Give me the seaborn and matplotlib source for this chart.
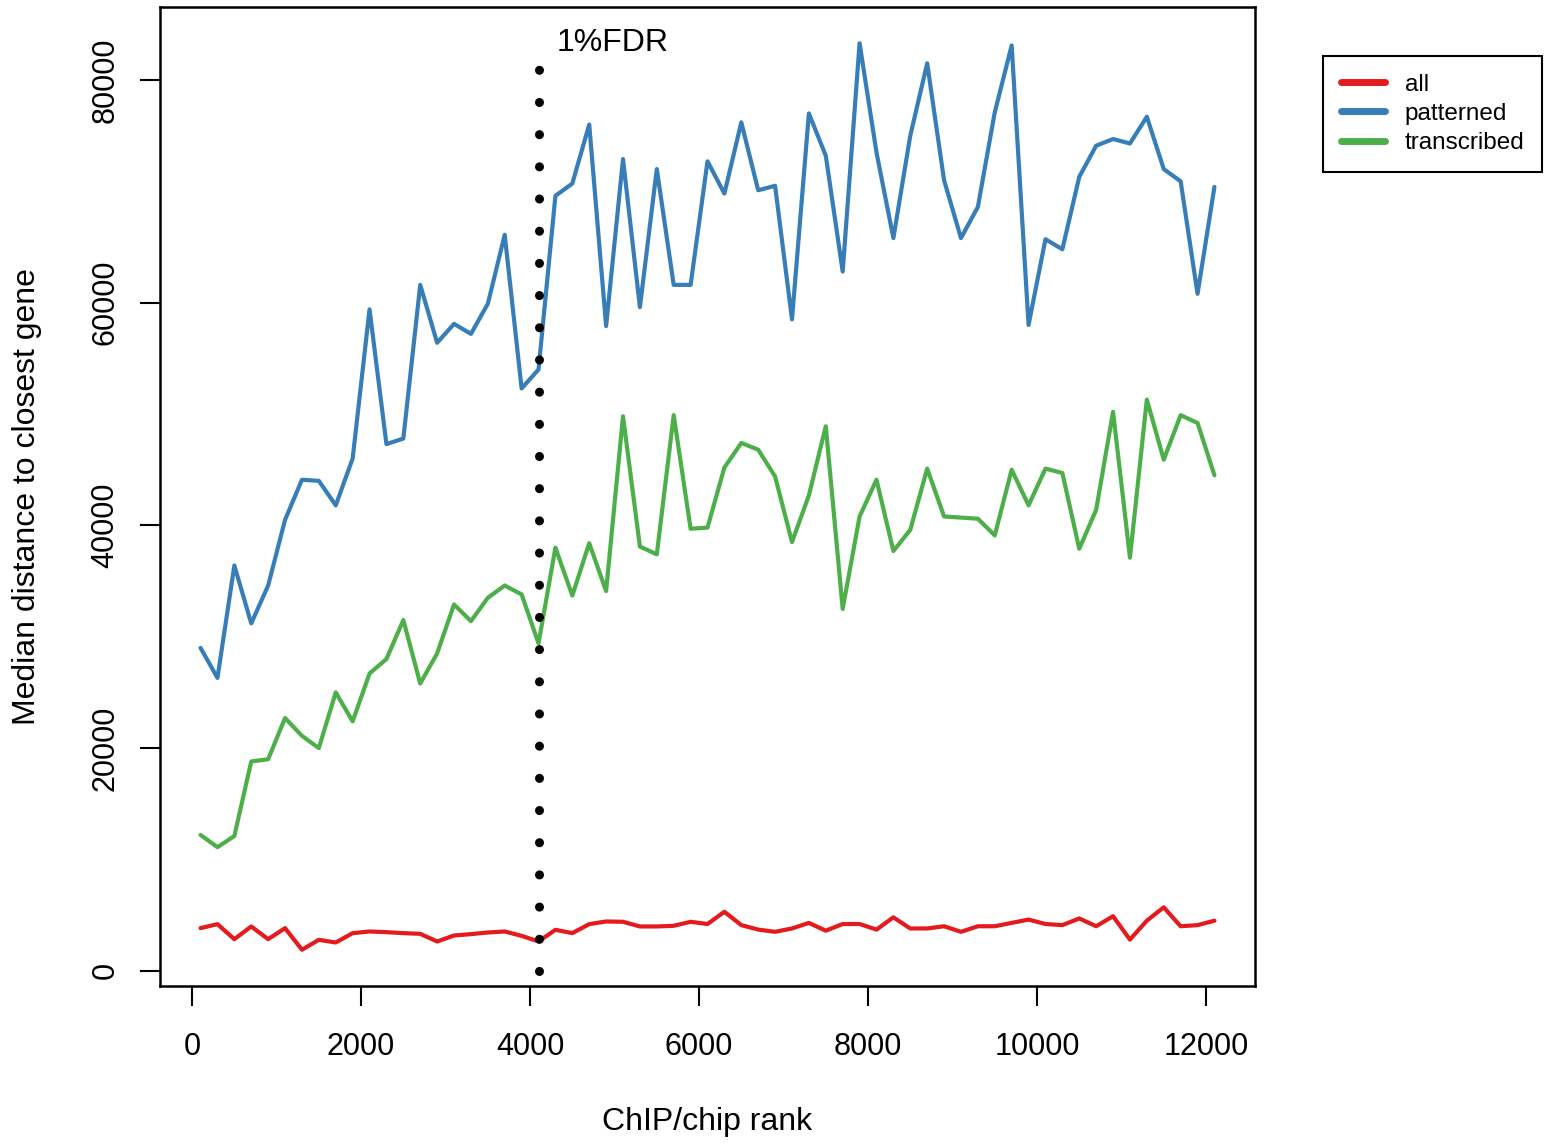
import numpy as np
import pandas as pd

import matplotlib as mpl

mpl.use('Agg')
import matplotlib.pyplot as plt
from matplotlib.lines import Line2D
import seaborn as sns

## Data
ranks = [100, 300, 500, 700, 900, 1100, 1300, 1500, 1700, 1900,
         2100, 2300, 2500, 2700, 2900, 3100, 3300, 3500, 3700, 3900,
         4100, 4300, 4500, 4700, 4900, 5100, 5300, 5500, 5700, 5900,
         6100, 6300, 6500, 6700, 6900, 7100, 7300, 7500, 7700, 7900,
         8100, 8300, 8500, 8700, 8900, 9100, 9300, 9500, 9700, 9900,
         10100, 10300, 10500, 10700, 10900, 11100, 11300, 11500, 11700, 11900, 12100]

all_dist = [3830, 4190, 2840, 3980, 2840, 3830, 1890, 2780, 2540, 3380,
            3530, 3470, 3380, 3320, 2630, 3170, 3290, 3440, 3530, 3140,
            2630, 3680, 3380, 4190, 4430, 4400, 3980, 3980, 4040, 4400,
            4200, 5300, 4100, 3700, 3500, 3800, 4300, 3600, 4200, 4200,
            3700, 4800, 3800, 3800, 4000, 3500, 4000, 4000, 4300, 4600,
            4200, 4100, 4700, 4000, 4900, 2800, 4500, 5700, 4000, 4100, 4500]

patterned_dist = [29000, 26300, 36400, 31200, 34600, 40500, 44100, 44000, 41800, 46000,
                  59400, 47300, 47800, 61600, 56400, 58100, 57200, 59900, 66100, 52300,
                  54000, 69600, 70700, 76000, 57900, 72900, 59600, 72000, 61600, 61600,
                  72700, 69800, 76200, 70100, 70500, 58500, 77000, 73200, 62800, 83300,
                  73500, 65800, 75000, 81500, 71000, 65800, 68600, 77100, 83100, 58000,
                  65700, 64800, 71300, 74100, 74700, 74300, 76700, 72000, 70900, 60800, 70400]

transcribed_dist = [12200, 11100, 12100, 18800, 19000, 22700, 21100, 20000, 25000, 22400,
                    26700, 28000, 31500, 25800, 28500, 32900, 31400, 33500, 34600, 33800,
                    29400, 38000, 33700, 38400, 34100, 49800, 38100, 37400, 49900, 39700,
                    39800, 45200, 47400, 46800, 44400, 38500, 42700, 48900, 32500, 40800,
                    44100, 37700, 39600, 45100, 40800, 40700, 40600, 39100, 45000, 41800,
                    45100, 44700, 37900, 41400, 50200, 37100, 51300, 45900, 49900, 49200, 44500]

set_names = ['all', 'patterned', 'transcribed']
set_colors = {'all': '#E41A1C', 'patterned': '#377EB8', 'transcribed': '#4DAF4A'}

fdr_rank = 4100
fdr_top = 81400

x_ticks = [0, 2000, 4000, 6000, 8000, 10000, 12000]
y_ticks = [0, 20000, 40000, 60000, 80000]

## Long format table for seaborn
df = pd.concat([
    pd.DataFrame({'rank': ranks, 'dist': all_dist, 'set': 'all'}),
    pd.DataFrame({'rank': ranks, 'dist': patterned_dist, 'set': 'patterned'}),
    pd.DataFrame({'rank': ranks, 'dist': transcribed_dist, 'set': 'transcribed'}),
])

## Plot
sns.set_style('ticks')
plt.rcParams['font.family'] = ['Liberation Sans', 'DejaVu Sans']
plt.rcParams.update({'text.color': 'black', 'axes.labelcolor': 'black',
                     'xtick.color': 'black', 'ytick.color': 'black',
                     'axes.edgecolor': 'black'})

fig = plt.figure(figsize=(15.54, 11.44), dpi=100)
ax = fig.add_axes([160 / 1554, 1 - 986 / 1144, 1095 / 1554, 979 / 1144])

sns.lineplot(data=df, x='rank', y='dist', hue='set', hue_order=set_names,
             palette=set_colors, estimator=None, sort=False, linewidth=3,
             legend=False, ax=ax)

# dotted 1% FDR cut-off
ax.plot([fdr_rank, fdr_rank], [0, fdr_top], color='black', linewidth=6.5,
        linestyle=(0, (0.01, 3.555)), dash_capstyle='round', solid_capstyle='round')
ax.text(fdr_rank + 215, 83300, '1%FDR', fontsize=23, ha='left', va='center')

# R-like ranges (4% padding)
xlo, xhi = min(ranks), max(ranks)
xpad = 0.04 * (xhi - xlo)
ax.set_xlim(xlo - xpad, xhi + xpad)
vals = all_dist + patterned_dist + transcribed_dist
ylo, yhi = min(vals), max(vals)
ypad = 0.04 * (yhi - ylo)
ax.set_ylim(ylo - ypad, yhi + ypad)

ax.set_xticks(x_ticks)
ax.set_yticks(y_ticks)
ax.tick_params(axis='both', direction='out', length=14.4, width=1.5,
               color='black', labelcolor='black', labelsize=22,
               bottom=True, left=True, top=False, right=False)
ax.tick_params(axis='x', pad=19)
ax.tick_params(axis='y', pad=14)
plt.setp(ax.get_yticklabels(), rotation=90, va='center')

for sp in ax.spines.values():
    sp.set_visible(True)
    sp.set_color('black')
    sp.set_linewidth(1.8)

ax.set_xlabel('ChIP/chip rank', fontsize=23, va='center')
ax.xaxis.set_label_coords(0.5, (986 - 1122) / 979)
ax.set_ylabel('Median distance to closest gene', fontsize=23, va='center')
ax.yaxis.set_label_coords((27 - 160) / 1095, 0.5)

handles = [Line2D([0], [0], color=set_colors[s], linewidth=5, solid_capstyle='round')
           for s in set_names]
leg = fig.legend(handles, set_names, loc='upper left',
                 bbox_to_anchor=(1323 / 1554, 1 - 56 / 1144), fontsize=17.5,
                 frameon=True, fancybox=False, framealpha=1, edgecolor='black',
                 handlelength=1.85, handletextpad=0.8, labelspacing=0.3,
                 borderpad=0.72, borderaxespad=0)
leg.get_frame().set_linewidth(1.5)
for t in leg.get_texts():
    t.set_color('black')

fig.savefig('out.png', dpi=100)
